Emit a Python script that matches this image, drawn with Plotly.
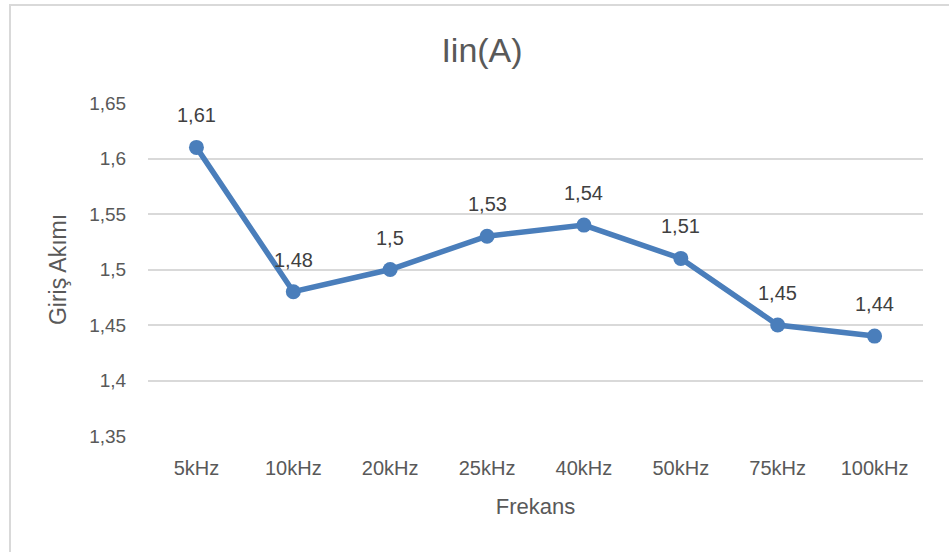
import plotly.graph_objects as go

# data
frequencies = ['5kHz', '10kHz', '20kHz', '25kHz', '40kHz', '50kHz', '75kHz', '100kHz']
input_current = [1.61, 1.48, 1.50, 1.53, 1.54, 1.51, 1.45, 1.44]
y_ticks = [1.35, 1.40, 1.45, 1.50, 1.55, 1.60, 1.65]
y_tick_text = ['1,35', '1,4', '1,45', '1,5', '1,55', '1,6', '1,65']

line_color = '#4a7ebb'
text_color = '#595959'
font_family = 'Liberation Sans, Arial, sans-serif'

labels = ['{:g}'.format(v).replace('.', ',') for v in input_current]

fig = go.Figure()
fig.add_trace(
    go.Scatter(
        x = frequencies,
        y = input_current,
        mode = 'lines+markers',
        line = dict(color = line_color, width = 5.5),
        marker = dict(color = line_color, size = 15),
        showlegend = False,
        hoverinfo = 'skip',
    )
)

# data labels above points
for f, v, t in zip(frequencies, input_current, labels):
    fig.add_annotation(
        x = f, y = v, text = t, showarrow = False,
        yshift = 32, font = dict(size = 20, color = '#404040', family = font_family),
    )

fig.update_layout(
    width = 949,
    height = 552,
    margin = dict(l = 148, r = 26, t = 103, b = 116),
    paper_bgcolor = 'white',
    plot_bgcolor = 'white',
    font = dict(family = font_family, color = text_color),
    title = dict(
        text = 'Iin(A)', x = 482 / 949, xanchor = 'center',
        y = 1 - 50 / 552, yanchor = 'middle',
        font = dict(size = 34, color = text_color),
    ),
    xaxis = dict(
        range = [-0.5, 7.5], automargin = False,
        showgrid = False, zeroline = False, showline = False,
        ticks = 'outside', ticklen = 14, tickcolor = 'rgba(0,0,0,0)',
        tickfont = dict(size = 20, color = text_color),
        title = dict(text = 'Frekans', standoff = 20, font = dict(size = 22, color = text_color)),
    ),
    yaxis = dict(
        range = [1.35, 1.65], automargin = False,
        tickvals = y_ticks, ticktext = y_tick_text,
        showgrid = True, gridcolor = '#d9d9d9', gridwidth = 1.5,
        zeroline = False, showline = False,
        ticks = 'outside', ticklen = 17, tickcolor = 'rgba(0,0,0,0)',
        tickfont = dict(size = 19, color = text_color),
        title = dict(text = 'Giriş Akımı', standoff = 16, font = dict(size = 23, color = text_color)),
    ),
)

# chart frame (extends beyond the right/bottom edge of the picture)
fig.add_shape(
    type = 'rect', xref = 'paper', yref = 'paper',
    x0 = (10 - 148) / 775, x1 = (960 - 148) / 775,
    y0 = (436 - 560) / 333, y1 = (436 - 5) / 333,
    line = dict(color = '#d9d9d9', width = 2), layer = 'below',
)

# remove the default page margin so the figure sits at the window corner
fig.write_html(
    'out.html',
    config = {'displayModeBar': False},
    post_script = "document.body.style.margin = '0';",
)
